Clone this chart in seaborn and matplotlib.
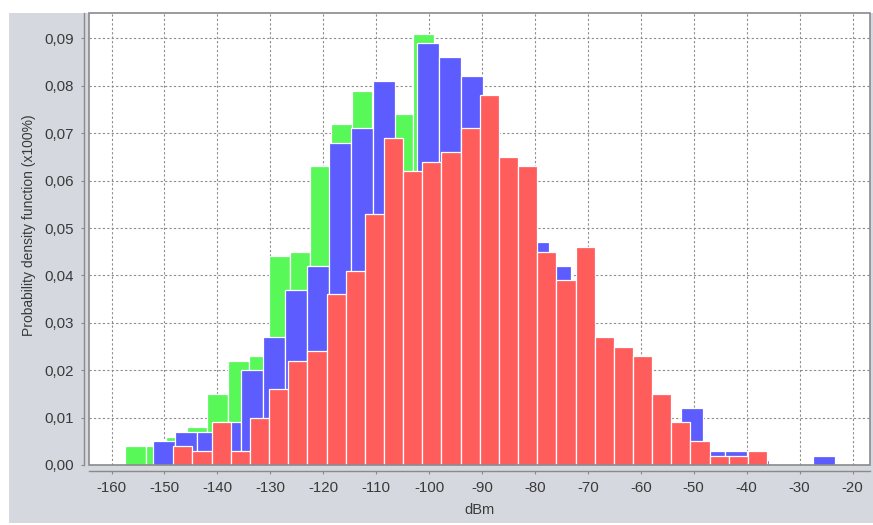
import numpy as np
import pandas as pd
import matplotlib
matplotlib.use("Agg")
import matplotlib.pyplot as plt
from matplotlib.patches import Rectangle
from matplotlib.ticker import FuncFormatter
import seaborn as sns

# each series: its own value range split into equal bins, relative frequency per bin
green_range = (-157.45, -36.83)
green_freq = [0.004, 0.004, 0.006, 0.008, 0.015, 0.022, 0.023, 0.044, 0.045, 0.063,
              0.072, 0.079, 0.070, 0.074, 0.091, 0.075, 0.065, 0.055, 0.045, 0.035,
              0.030, 0.028, 0.022, 0.018, 0.012, 0.008, 0.005, 0.003, 0.002, 0.001, 0.001]

blue_range = (-152.10, -23.26)
blue_freq = [0.005, 0.007, 0.007, 0.009, 0.020, 0.027, 0.037, 0.042, 0.068, 0.071,
             0.081, 0.055, 0.089, 0.086, 0.082, 0.062, 0.050, 0.047, 0.042, 0.030,
             0.027, 0.021, 0.008, 0.005, 0.012, 0.003, 0.003, 0.001, 0.0, 0.0, 0.002]

red_range = (-148.33, -36.14)
red_freq = [0.004, 0.003, 0.009, 0.003, 0.010, 0.016, 0.022, 0.024, 0.036, 0.041,
            0.053, 0.069, 0.062, 0.064, 0.066, 0.071, 0.078, 0.065, 0.063, 0.045,
            0.039, 0.046, 0.027, 0.025, 0.023, 0.015, 0.009, 0.005, 0.002, 0.002, 0.003]

x_ticks = list(range(-160, -19, 10))
y_ticks = [i / 100 for i in range(10)]

x_label = "dBm"
y_label = "Probability density function (x100%)"

sns.set_style("white")
plt.rcParams["font.family"] = ["Liberation Sans", "DejaVu Sans"]
plt.rcParams["axes.unicode_minus"] = False

text_color = "#3a3a3a"
axis_color = "#8a8a8a"


def draw_series(ax, value_range, freq, color):
    edges = np.linspace(value_range[0], value_range[1], len(freq) + 1)
    df = pd.DataFrame({"dbm": (edges[:-1] + edges[1:]) / 2, "freq": freq})
    sns.histplot(data=df, x="dbm", weights="freq", bins=edges.tolist(), color=color,
                 alpha=1.0, edgecolor="white", linewidth=0.9, ax=ax, zorder=2)


fig = plt.figure(figsize=(8.73, 5.25), dpi=100)
fig.patch.set_facecolor("white")
# grey chart panel behind the plot
fig.add_artist(Rectangle((9 / 873, 2 / 525), 864 / 873, 510 / 525,
                         transform=fig.transFigure, facecolor="#d5d8de",
                         edgecolor="none", zorder=-10))

ax = fig.add_axes([89.3 / 873, 60 / 525, (870 - 89.3) / 873, (465 - 13.3) / 525])
ax.set_facecolor("white")

draw_series(ax, green_range, green_freq, "#58f858")
draw_series(ax, blue_range, blue_freq, "#5c5cff")
draw_series(ax, red_range, red_freq, "#ff5c5c")

ax.set_xlim(-164.2, -16.7)
ax.set_ylim(0, 0.0953)
ax.set_xticks(x_ticks)
ax.set_yticks(y_ticks)
ax.xaxis.set_major_formatter(FuncFormatter(lambda v, p: f"{int(round(v))}"))
ax.yaxis.set_major_formatter(FuncFormatter(lambda v, p: f"{v:.2f}".replace(".", ",")))

ax.grid(True, color="#8c8c8c", linestyle=(0, (2, 2)), linewidth=0.8)
ax.set_axisbelow(True)

for side in ["top", "right"]:
    ax.spines[side].set_visible(False)
ax.spines["left"].set_position(("outward", 3.8))
ax.spines["bottom"].set_position(("outward", 4.5))
for side in ["left", "bottom"]:
    ax.spines[side].set_color(axis_color)
    ax.spines[side].set_linewidth(1)

# border round the plot area
ax.add_patch(Rectangle((0, 0), 1, 1, transform=ax.transAxes, fill=False,
                       edgecolor=axis_color, linewidth=1.2, clip_on=False, zorder=5))

ax.tick_params(axis="both", direction="out", length=2, width=0.8, color=axis_color,
               labelsize=10.8, labelcolor=text_color)
ax.tick_params(axis="x", pad=5, bottom=True)
ax.tick_params(axis="y", pad=5.5, left=True)

ax.set_xlabel(x_label, fontsize=10.5, color=text_color)
ax.set_ylabel(y_label, fontsize=10, color=text_color)
ax.xaxis.set_label_coords(0.5, -0.084)
ax.yaxis.set_label_coords(-0.068, 0.531)

fig.savefig("out.png", dpi=100, facecolor=fig.get_facecolor())
